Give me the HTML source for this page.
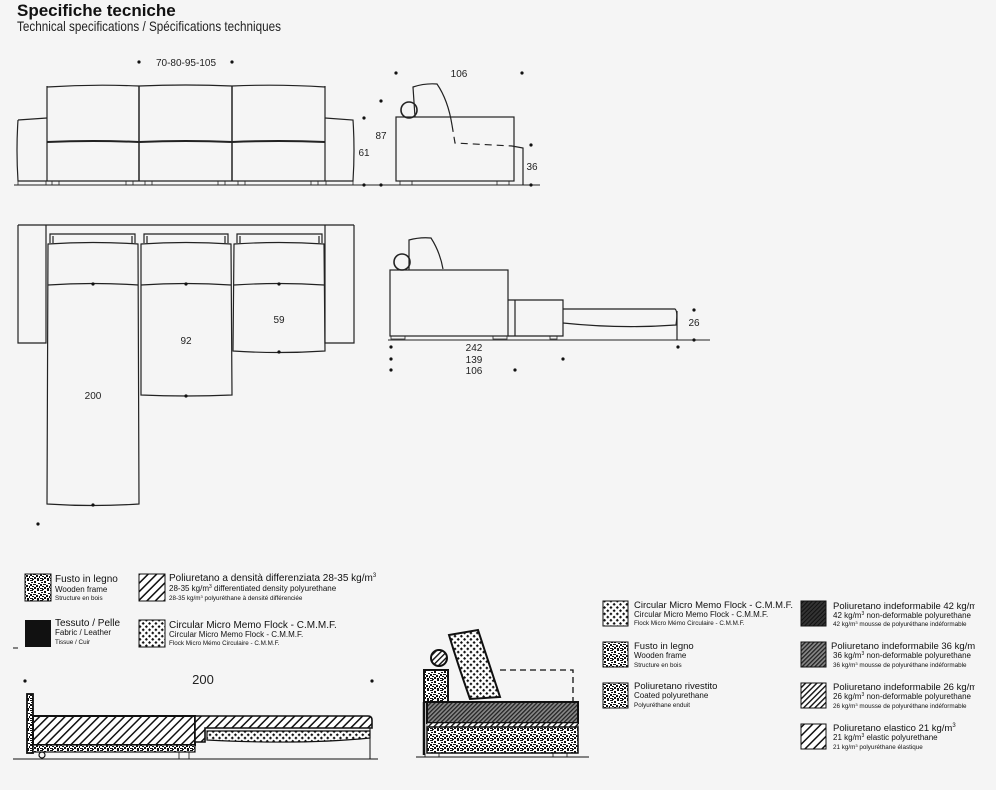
<!DOCTYPE html>
<html><head><meta charset="utf-8"><style>
html,body{margin:0;padding:0;background:#f5f5f5;width:996px;height:790px;overflow:hidden}
svg{display:block;font-family:"Liberation Sans",sans-serif}
</style></head><body>
<svg width="996" height="790" viewBox="0 0 996 790" xmlns="http://www.w3.org/2000/svg">
<defs>
<pattern id="wood" width="10" height="10" patternUnits="userSpaceOnUse">
<rect width="10" height="10" fill="#fff"/>
<g fill="#111"><rect x="0" y="0" width="3" height="1"/><rect x="4" y="1" width="2" height="2"/><rect x="7" y="0" width="2" height="1"/><rect x="1" y="2" width="2" height="1"/><rect x="8" y="3" width="2" height="1"/><rect x="0" y="4" width="2" height="2"/><rect x="3" y="4" width="3" height="1"/><rect x="6" y="5" width="2" height="2"/><rect x="2" y="6" width="2" height="1"/><rect x="9" y="6" width="1" height="2"/><rect x="0" y="8" width="3" height="1"/><rect x="4" y="7" width="2" height="2"/><rect x="7" y="8" width="2" height="2"/><rect x="2" y="9" width="2" height="1"/></g>
</pattern>
<pattern id="hatch" width="6" height="6" patternUnits="userSpaceOnUse" patternTransform="rotate(45)">
<rect width="6" height="6" fill="#fff"/><rect width="1.5" height="6" fill="#111"/></pattern>
<pattern id="hatch2" width="4" height="4" patternUnits="userSpaceOnUse" patternTransform="rotate(45)">
<rect width="4" height="4" fill="#fff"/><rect width="1.4" height="4" fill="#111"/></pattern>
<pattern id="dots" width="4.5" height="4.5" patternUnits="userSpaceOnUse" patternTransform="rotate(45)">
<rect width="4.5" height="4.5" fill="#fff"/><rect x="1" y="1" width="2.2" height="2.2" fill="#111"/></pattern>
<pattern id="dark42" width="3" height="3" patternUnits="userSpaceOnUse" patternTransform="rotate(45)">
<rect width="3" height="3" fill="#333"/><rect width="1" height="3" fill="#111"/></pattern>
<pattern id="dark36" width="3" height="3" patternUnits="userSpaceOnUse" patternTransform="rotate(45)">
<rect width="3" height="3" fill="#888"/><rect width="1.3" height="3" fill="#222"/></pattern>
</defs>

<text x="17" y="16" font-size="17" font-weight="bold" fill="#111">Specifiche tecniche</text>
<text x="17" y="31" font-size="14" fill="#222" textLength="264" lengthAdjust="spacingAndGlyphs">Technical specifications / Spécifications techniques</text>

<g fill="none" stroke="#222" stroke-width="1.2">
<path d="M47 87 Q93 84 139 86 Q186 84 232 86 Q279 84 325 87"/>
<line x1="47" y1="86" x2="47" y2="181"/><line x1="139" y1="86" x2="139" y2="181" stroke-width="1.5"/><line x1="232" y1="86" x2="232" y2="181" stroke-width="1.5"/><line x1="325" y1="86" x2="325" y2="181"/>
<path d="M47 142 Q93 140 139 142 Q186 140 232 142 Q279 140 325 142" stroke-width="2"/>
<path d="M18 120 L47 118 M18 120 Q16 150 18 181 L47 181 M325 118 L353 120 Q355 150 353 181 L325 181 M47 181 L325 181"/>
<line x1="14" y1="185" x2="540" y2="185" stroke-width="1"/>
<path d="M18 181v4h28v-4M52 181v4h7v-4M126 181v4h7v-4M145 181v4h7v-4M218 181v4h7v-4M238 181v4h7v-4M311 181v4h7v-4M326 181v4h27v-4" stroke-width="0.8"/>
<rect x="396" y="117" width="118" height="64"/>
<path d="M415 117 L413 87 Q425 83 437 84 Q448 100 452 125"/>
<circle cx="409" cy="110" r="8" stroke-width="1.6"/>
<path d="M452 125 L455 143 L512 146" stroke-dasharray="7,5"/>
<path d="M512 146 L523 148 L523 185"/>
<path d="M400 181v4h12v-4M497 181v4h12v-4" stroke-width="0.8"/>
<path d="M18 225 H354 M18 225 V343 H46 V225 M325 225 V343 H354 V225 M46 225 V243"/>
<path d="M50 243 V234 H135 V243 M53 243 V236 M132 243 V236 M144 243 V234 H228 V243 M147 243 V236 M225 243 V236 M237 243 V234 H322 V243 M240 243 V236 M319 243 V236"/>
<path d="M48 244 Q93 241 138 244 L139 504 Q93 507 47 504 Z"/>
<path d="M48 285 Q93 282 138 285"/>
<path d="M141 244 Q186 241 231 244 L232 395 Q186 397 141 395 Z"/>
<path d="M141 285 Q186 282 231 285"/>
<path d="M234 244 Q279 241 324 244 L325 351 Q279 354 233 351 Z"/>
<path d="M234 285 Q279 282 324 285"/>
<rect x="390" y="270" width="118" height="66"/>
<path d="M409 270 L409 240 Q420 237 431 238 Q440 252 443 269"/>
<circle cx="402" cy="262" r="8" stroke-width="1.6"/>
<path d="M508 300 H563 V336 H508 M515 300 V336"/>
<path d="M563 309 H675 Q678 311 676 325 Q620 329 563 323"/>
<line x1="677" y1="311" x2="677" y2="340"/>
<line x1="388" y1="340" x2="710" y2="340" stroke-width="1"/>
<path d="M391 336v3h14v-3M493 336v3h14v-3M550 336v3h7v-3" stroke-width="0.8"/>
</g>

<g fill="#111">
<circle cx="139" cy="62" r="1.6"/><circle cx="232" cy="62" r="1.6"/>
<circle cx="364" cy="118" r="1.6"/><circle cx="364" cy="185" r="1.6"/>
<circle cx="381" cy="101" r="1.6"/><circle cx="381" cy="185" r="1.6"/>
<circle cx="396" cy="73" r="1.6"/><circle cx="522" cy="73" r="1.6"/>
<circle cx="531" cy="145" r="1.6"/><circle cx="531" cy="185" r="1.6"/>
<circle cx="93" cy="284" r="1.6"/><circle cx="186" cy="284" r="1.6"/><circle cx="279" cy="284" r="1.6"/>
<circle cx="93" cy="505" r="1.6"/><circle cx="186" cy="396" r="1.6"/><circle cx="279" cy="352" r="1.6"/>
<circle cx="38" cy="524" r="1.6"/>
<circle cx="391" cy="347" r="1.6"/><circle cx="678" cy="347" r="1.6"/>
<circle cx="391" cy="359" r="1.6"/><circle cx="563" cy="359" r="1.6"/>
<circle cx="391" cy="370" r="1.6"/><circle cx="515" cy="370" r="1.6"/>
<circle cx="694" cy="310" r="1.6"/><circle cx="694" cy="340" r="1.6"/>
<circle cx="25" cy="681" r="1.6"/><circle cx="372" cy="681" r="1.6"/>
</g>
<g font-size="10" fill="#222" text-anchor="middle">
<text x="186" y="66">70-80-95-105</text>
<text x="364" y="156">61</text><text x="381" y="139">87</text>
<text x="459" y="77">106</text><text x="532" y="170">36</text>
<text x="93" y="399">200</text><text x="186" y="344">92</text><text x="279" y="323">59</text>
<text x="474" y="351">242</text><text x="474" y="363">139</text><text x="474" y="374">106</text>
<text x="694" y="326">26</text>
<text x="203" y="684" font-size="13">200</text>
</g>

<rect x="25" y="574" width="26" height="27" fill="url(#wood)" stroke="#111"/>
<rect x="139" y="574" width="26" height="27" fill="url(#hatch)" stroke="#111"/>
<rect x="25" y="620" width="26" height="27" fill="#111"/>
<rect x="139" y="620" width="26" height="27" fill="url(#dots)" stroke="#111"/>
<line x1="13" y1="648" x2="18" y2="648" stroke="#111"/>
<g fill="#111">
<text x="55" y="582" font-size="10">Fusto in legno</text><text x="55" y="592" font-size="8">Wooden frame</text><text x="55" y="600" font-size="6.3">Structure en bois</text>
<text x="169" y="581" font-size="10">Poliuretano a densità differenziata 28-35 kg/m<tspan font-size="6" dy="-4">3</tspan></text>
<text x="169" y="591" font-size="8">28-35 kg/m<tspan font-size="5" dy="-3">3</tspan><tspan dy="3"> differentiated density polyurethane</tspan></text>
<text x="169" y="600" font-size="6.3">28-35 kg/m<tspan font-size="4" dy="-2">3</tspan><tspan dy="2"> polyuréthane à densité différenciée</tspan></text>
<text x="55" y="626" font-size="10">Tessuto / Pelle</text><text x="55" y="635" font-size="8">Fabric / Leather</text><text x="55" y="644" font-size="6.3">Tissue / Cuir</text>
<text x="169" y="628" font-size="10">Circular Micro Memo Flock - C.M.M.F.</text><text x="169" y="637" font-size="8">Circular Micro Memo Flock - C.M.M.F.</text><text x="169" y="645" font-size="6.3">Flock Micro Mémo Circulaire - C.M.M.F.</text>
</g>

<g stroke="#111" stroke-width="1.2">
<rect x="27" y="694" width="6" height="59" fill="url(#wood)" stroke-width="1.8"/>
<rect x="33" y="716" width="162" height="29" fill="url(#hatch)" stroke-width="2"/>
<rect x="33" y="745" width="162" height="7" fill="url(#wood)"/>
<circle cx="42" cy="755" r="3" fill="none"/>
<rect x="179" y="752" width="10" height="7" fill="none" stroke-width="0.8"/>
<path d="M195 716 H368 Q372 716 372 720 V728 H205 V742 H195 Z" fill="url(#hatch)" stroke-width="1.6"/>
<path d="M207 731 H370 V738 Q300 745 207 740 Z" fill="url(#dots)"/>
<line x1="370" y1="728" x2="370" y2="759" stroke-width="1"/>
</g>
<line x1="13" y1="759" x2="378" y2="759" stroke="#111" stroke-width="1"/>

<g stroke="#111" stroke-width="1.5">
<rect x="424" y="670" width="24" height="32" fill="url(#wood)" stroke-width="2"/>
<circle cx="439" cy="658" r="8" fill="url(#hatch2)" stroke-width="2"/>
<path d="M449 635 L478 630 Q488 660 500 697 L470 699 Q458 665 449 635 Z" fill="url(#dots)" stroke-width="2"/>
<path d="M500 670 H573 V702" fill="none" stroke-dasharray="6,4" stroke-width="1.3"/>
<rect x="427" y="702" width="151" height="21" fill="url(#dark36)" stroke-width="2"/>
<rect x="427" y="723" width="151" height="4" fill="url(#hatch2)" stroke-width="0.6"/>
<rect x="427" y="727" width="151" height="26" fill="url(#wood)" stroke-width="1.5"/>
<line x1="424" y1="702" x2="424" y2="755" stroke-width="2.5"/>
<path d="M425 753v4h14v-4M553 753v4h14v-4" fill="none" stroke-width="0.8"/>
</g>
<line x1="416" y1="757" x2="589" y2="757" stroke="#111" stroke-width="1"/>

<g stroke="#111">
<rect x="603" y="601" width="25" height="25" fill="url(#dots)"/>
<rect x="603" y="642" width="25" height="25" fill="url(#wood)"/>
<rect x="603" y="683" width="25" height="25" fill="url(#wood)"/>
<rect x="801" y="601" width="25" height="25" fill="url(#dark42)"/>
<rect x="801" y="642" width="25" height="25" fill="url(#dark36)"/>
<rect x="801" y="683" width="25" height="25" fill="url(#hatch2)"/>
<rect x="801" y="724" width="25" height="25" fill="url(#hatch)"/>
</g>
<g fill="#111">
<text x="634" y="608" font-size="9.5" textLength="159" lengthAdjust="spacingAndGlyphs">Circular Micro Memo Flock - C.M.M.F.</text><text x="634" y="617" font-size="8">Circular Micro Memo Flock - C.M.M.F.</text><text x="634" y="625" font-size="6.3">Flock Micro Mémo Circulaire - C.M.M.F.</text>
<text x="634" y="649" font-size="9.5">Fusto in legno</text><text x="634" y="658" font-size="8">Wooden frame</text><text x="634" y="667" font-size="6.3">Structure en bois</text>
<text x="634" y="689" font-size="9.5">Poliuretano rivestito</text><text x="634" y="698" font-size="8">Coated polyurethane</text><text x="634" y="707" font-size="6.3">Polyuréthane enduit</text>
</g>
<svg x="830" y="595" width="145" height="160" overflow="hidden">
<g fill="#111">
<text x="3" y="14" font-size="9.5">Poliuretano indeformabile 42 kg/m</text><text x="3" y="23" font-size="8">42 kg/m<tspan font-size="5" dy="-3">3</tspan><tspan dy="3"> non-deformable polyurethane</tspan></text><text x="3" y="31" font-size="6.3">42 kg/m<tspan font-size="4" dy="-2">3</tspan><tspan dy="2"> mousse de polyuréthane indéformable</tspan></text>
<text x="1" y="54" font-size="9.5">Poliuretano indeformabile 36 kg/m</text><text x="3" y="63" font-size="8">36 kg/m<tspan font-size="5" dy="-3">3</tspan><tspan dy="3"> non-deformable polyurethane</tspan></text><text x="3" y="72" font-size="6.3">36 kg/m<tspan font-size="4" dy="-2">3</tspan><tspan dy="2"> mousse de polyuréthane indéformable</tspan></text>
<text x="3" y="95" font-size="9.5">Poliuretano indeformabile 26 kg/m</text><text x="3" y="104" font-size="8">26 kg/m<tspan font-size="5" dy="-3">3</tspan><tspan dy="3"> non-deformable polyurethane</tspan></text><text x="3" y="113" font-size="6.3">26 kg/m<tspan font-size="4" dy="-2">3</tspan><tspan dy="2"> mousse de polyuréthane indéformable</tspan></text>
<text x="3" y="136" font-size="9.5">Poliuretano elastico 21 kg/m<tspan font-size="6" dy="-4">3</tspan></text><text x="3" y="145" font-size="8">21 kg/m<tspan font-size="5" dy="-3">3</tspan><tspan dy="3"> elastic polyurethane</tspan></text><text x="3" y="154" font-size="6.3">21 kg/m<tspan font-size="4" dy="-2">3</tspan><tspan dy="2"> polyuréthane élastique</tspan></text>
</g>
</svg>
</svg>
</body></html>
